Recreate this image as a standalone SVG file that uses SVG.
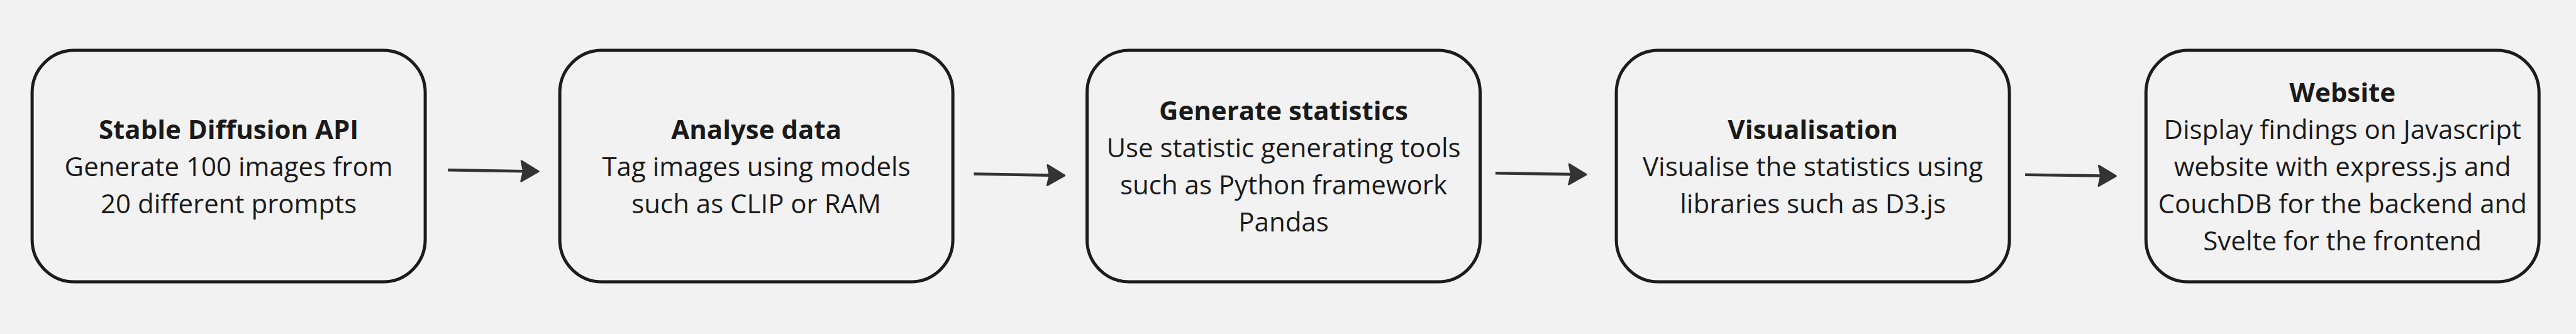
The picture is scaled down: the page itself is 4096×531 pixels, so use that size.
<svg xmlns="http://www.w3.org/2000/svg" width="4096" height="531" viewBox="0 0 4096 531">
<style>
.box{fill:#f2f2f2;stroke:#1c1c1c;stroke-width:5}
.t{font-family:"Open Sans","Noto Sans",sans-serif;font-size:42px;fill:#1a1a1a;text-anchor:middle}
.b{font-weight:700}
.conn{fill:none;stroke:#333333;stroke-width:4.6;stroke-linecap:butt}
</style>
<defs>
<marker id="ah" markerUnits="userSpaceOnUse" refX="0" refY="0" markerWidth="40" markerHeight="40" orient="auto" overflow="visible">
<path d="M23.5,0 L-3.6,-16 L0,0 L-3.6,16 Z" fill="#333333" stroke="#333333" stroke-width="3" stroke-linejoin="round"/>
</marker>
</defs>
<rect x="0" y="0" width="4096" height="531" fill="#f2f2f2"/>
<g id="connectors">
<line class="conn" x1="712.2" y1="270.3" x2="832.6" y2="272.2" marker-end="url(#ah)"/>
<line class="conn" x1="1548.5" y1="276.5" x2="1669.2" y2="278.6" marker-end="url(#ah)"/>
<line class="conn" x1="2377.8" y1="275.3" x2="2498.5" y2="277.1" marker-end="url(#ah)"/>
<line class="conn" x1="3220.1" y1="277.7" x2="3340.8" y2="279.5" marker-end="url(#ah)"/>
</g>
<g id="node-stable-diffusion">
<rect class="box" x="51.1" y="80.1" width="625" height="368" rx="67" ry="67"/>
<text class="t b" x="363.6" y="220.7">Stable Diffusion API</text>
<text class="t" x="363.6" y="279.7">Generate 100 images from</text>
<text class="t" x="363.6" y="338.7">20 different prompts</text>
</g>
<g id="node-analyse">
<rect class="box" x="890.1" y="80.1" width="625" height="368" rx="67" ry="67"/>
<text class="t b" x="1202.6" y="220.7">Analyse data</text>
<text class="t" x="1202.6" y="279.7">Tag images using models</text>
<text class="t" x="1202.6" y="338.7">such as CLIP or RAM</text>
</g>
<g id="node-statistics">
<rect class="box" x="1728.5" y="80.1" width="625" height="368" rx="67" ry="67"/>
<text class="t b" x="2041" y="191.1">Generate statistics</text>
<text class="t" x="2041" y="250.2">Use statistic generating tools</text>
<text class="t" x="2041" y="309.2">such as Python framework</text>
<text class="t" x="2041" y="368.3">Pandas</text>
</g>
<g id="node-visualisation">
<rect class="box" x="2570.1" y="80.1" width="625" height="368" rx="67" ry="67"/>
<text class="t b" x="2882.6" y="220.7">Visualisation</text>
<text class="t" x="2882.6" y="279.7">Visualise the statistics using</text>
<text class="t" x="2882.6" y="338.7">libraries such as D3.js</text>
</g>
<g id="node-website">
<rect class="box" x="3412.2" y="80.1" width="625" height="368" rx="67" ry="67"/>
<text class="t b" x="3724.7" y="161.6">Website</text>
<text class="t" x="3724.7" y="220.7">Display findings on Javascript</text>
<text class="t" x="3724.7" y="279.7">website with express.js and</text>
<text class="t" x="3724.7" y="338.7">CouchDB for the backend and</text>
<text class="t" x="3724.7" y="397.8">Svelte for the frontend</text>
</g>
</svg>
